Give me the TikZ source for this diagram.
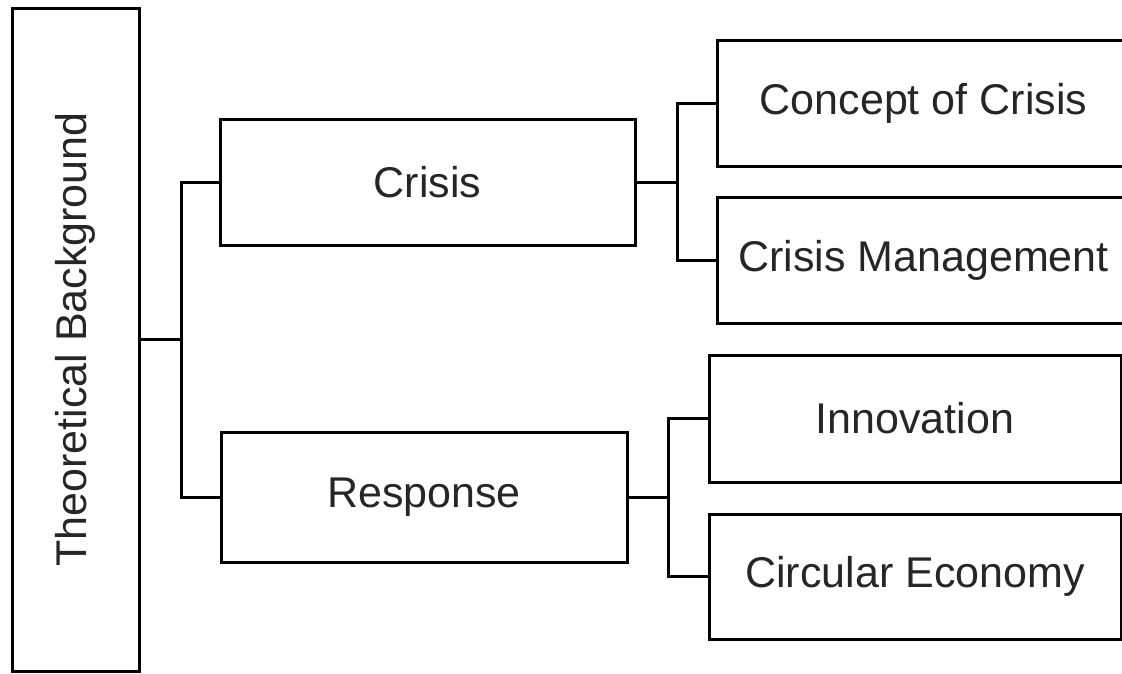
\documentclass[tikz,border=0pt]{standalone}
\usepackage{fontspec}
\setmainfont{Liberation Sans}
\begin{document}
\begin{tikzpicture}[x=1pt, y=-1pt,
  box/.style={draw=black, line width=3pt, fill=white, inner sep=0pt,
    font=\fontsize{43}{51}\selectfont, text=black!85},
  link/.style={draw=black, line width=3pt, line join=miter}]
  \useasboundingbox (0,0) rectangle (1122,673);

  % root
  \node[box, minimum width=127pt, minimum height=663pt] (theory) at (75.5,339.5)
    {\rotatebox{90}{Theoretical Background}};

  % second level
  \node[box, minimum width=415pt, minimum height=126pt] (crisis) at (427.5,182) {Crisis};
  \node[box, minimum width=406pt, minimum height=130pt] (response) at (424,497) {Response};

  % third level
  \node[box, minimum width=413pt, minimum height=126pt] (concept) at (923.5,103) {Concept of Crisis};
  \node[box, minimum width=413pt, minimum height=126pt] (management) at (923.5,260) {Crisis Management};
  \node[box, minimum width=412pt, minimum height=127pt] (innovation) at (915,418.5) {Innovation};
  \node[box, minimum width=412pt, minimum height=125pt] (circular) at (915,576.5) {Circular Economy};

  % tree connectors
  \draw[link] (theory.east) -- ++(41,0) coordinate (j1);
  \draw[link] (crisis.west) -| (j1) |- (response.west);

  \draw[link] (crisis.east) -- ++(41,0) coordinate (j2);
  \draw[link] (concept.west) -| (j2) |- (management.west);

  \draw[link] (response.east) -- ++(40,0) coordinate (j3);
  \draw[link] (innovation.west) -| (j3) |- (circular.west);
\end{tikzpicture}
\end{document}
